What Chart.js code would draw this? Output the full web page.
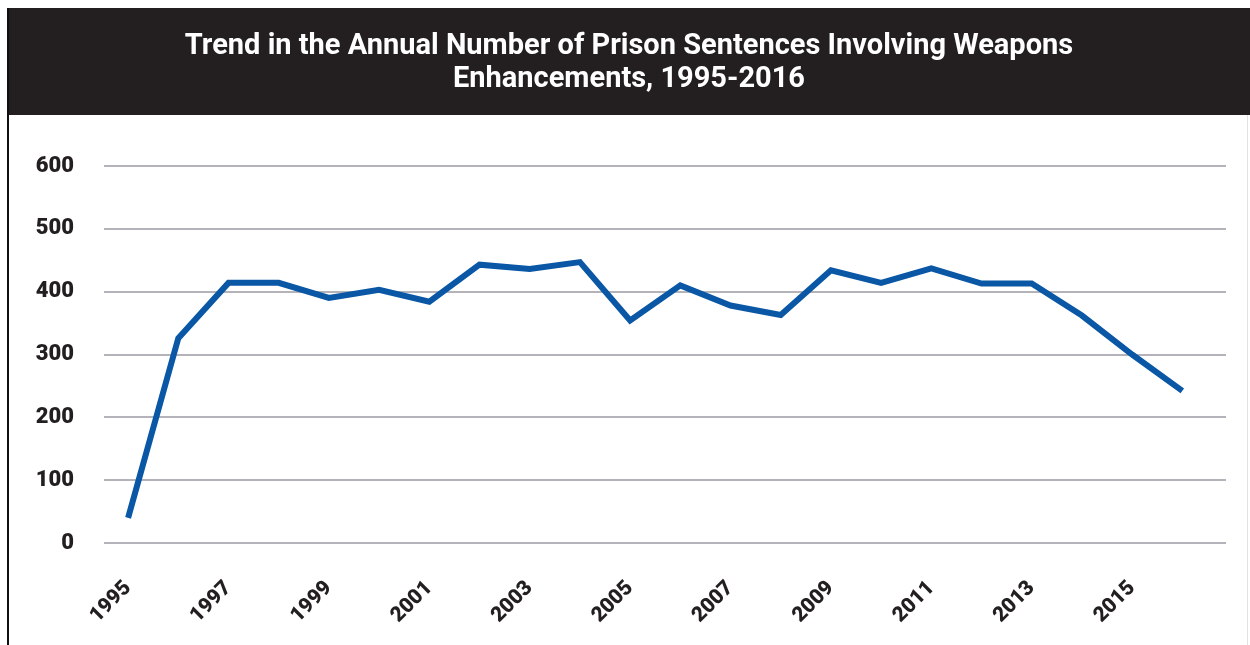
<!DOCTYPE html>
<html>
<head>
<meta charset="utf-8">
<script src="https://cdn.jsdelivr.net/npm/chart.js@4/dist/chart.umd.min.js"></script>
<style>
  html, body { margin: 0; padding: 0; background: #fff; }
  #wrap { width: 1250px; height: 645px; position: relative; }
</style>
</head>
<body>
<div id="wrap"><canvas id="chart" width="1250" height="645"></canvas></div>
<script>
// annual counts, read year by year
const years = [1995, 1996, 1997, 1998, 1999, 2000, 2001, 2002, 2003, 2004, 2005,
               2006, 2007, 2008, 2009, 2010, 2011, 2012, 2013, 2014, 2015, 2016];
const sentences = [40, 326, 414, 414, 390, 403, 384, 443, 436, 447, 354,
                   410, 378, 363, 434, 414, 437, 413, 413, 362, 300, 242];
const yearTicks = [1995, 1997, 1999, 2001, 2003, 2005, 2007, 2009, 2011, 2013, 2015];
const valueTicks = [0, 100, 200, 300, 400, 500, 600];
const titleLines = ['Trend in the Annual Number of Prison Sentences Involving Weapons',
                    'Enhancements, 1995-2016'];

const FONT = 'Roboto, "Liberation Sans", Arial, sans-serif';
const INK = '#231f20';

// black header band with the white two-line heading, plus the thin frame lines
const frame = {
  id: 'frame',
  beforeDraw(chart) {
    const ctx = chart.ctx;
    ctx.save();
    ctx.fillStyle = '#231f20';
    ctx.fillRect(8, 8, chart.width - 8, 107);
    ctx.fillStyle = '#111';
    ctx.fillRect(7, 8, 2, chart.height - 8);
    ctx.fillStyle = '#e2e2e2';
    ctx.fillRect(1247, 115, 1, chart.height - 115);

    ctx.fillStyle = '#ffffff';
    ctx.font = 'bold 29px ' + FONT;
    ctx.textAlign = 'center';
    ctx.textBaseline = 'middle';
    const cx = (8 + chart.width) / 2;
    titleLines.forEach((line, i) => ctx.fillText(line, cx, 47 + i * 33));
    ctx.restore();
  }
};

new Chart(document.getElementById('chart'), {
  type: 'line',
  data: {
    datasets: [{
      data: years.map((y, i) => ({ x: y, y: sentences[i] })),
      borderColor: '#0a57a6',
      borderWidth: 6,
      pointRadius: 0,
      tension: 0,
      fill: false
    }]
  },
  options: {
    responsive: false,
    animation: false,
    layout: { padding: { left: 0, right: 24, top: 166, bottom: 0 } },
    plugins: {
      legend: { display: false },
      tooltip: { enabled: false },
      title: { display: false }
    },
    scales: {
      x: {
        type: 'linear',
        min: 1994.52,
        max: 2016.87,
        afterBuildTicks(scale) { scale.ticks = yearTicks.map(v => ({ value: v })); },
        afterFit(scale) { scale.height = 102; },
        grid: { display: false, drawTicks: false },
        border: { display: false },
        ticks: {
          autoSkip: false,
          minRotation: 45,
          maxRotation: 45,
          padding: 33,
          color: INK,
          font: { family: FONT, size: 21, weight: 900 },
          callback: v => String(v)
        }
      },
      y: {
        min: 0,
        max: 600,
        afterBuildTicks(scale) { scale.ticks = valueTicks.map(v => ({ value: v })); },
        afterFit(scale) { scale.width = 104; },
        grid: { color: '#b3b3b9', lineWidth: 2, drawTicks: false },
        border: { display: false },
        ticks: {
          padding: 30,
          color: INK,
          font: { family: FONT, size: 22, weight: 900 }
        }
      }
    }
  },
  plugins: [frame]
});
</script>
</body>
</html>
